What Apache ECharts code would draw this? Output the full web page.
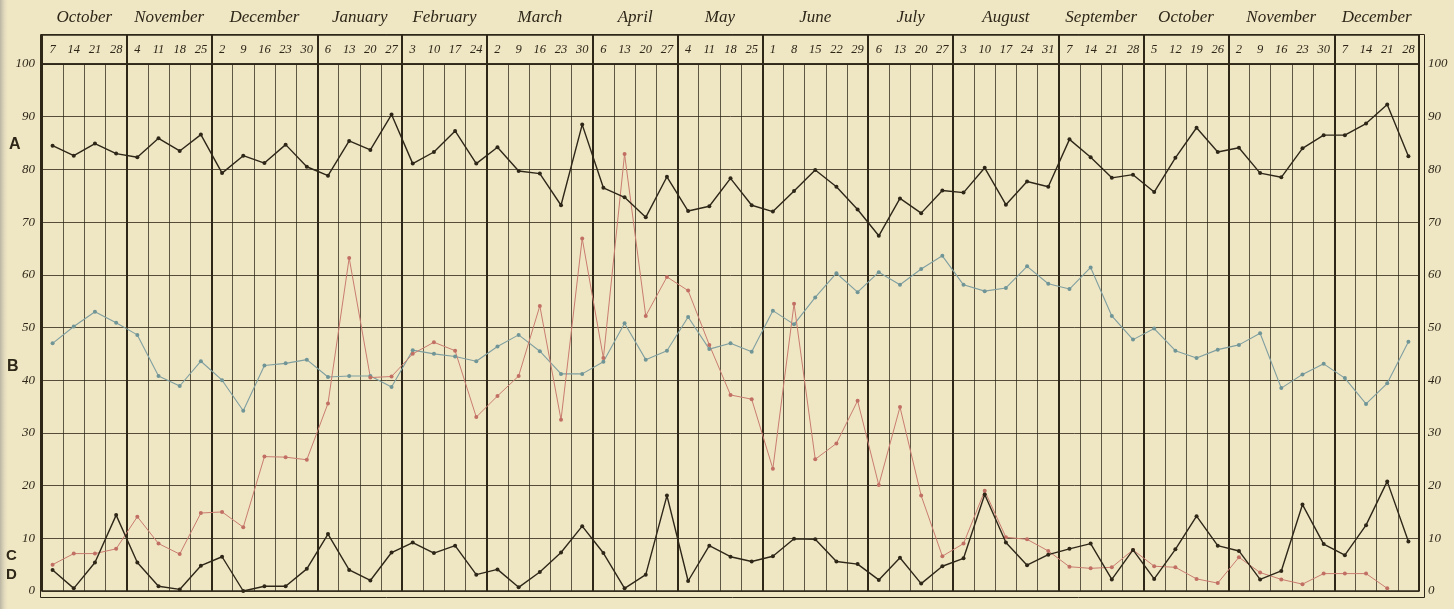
<!DOCTYPE html>
<html><head><meta charset="utf-8">
<script src="https://cdn.jsdelivr.net/npm/echarts@6/dist/echarts.min.js"></script>
<style>html,body{margin:0;padding:0;background:#efe6c4;}#c{width:1454px;height:609px;}</style>
</head><body><div id="c"></div>
<script>
const months = ['October','November','December','January','February','March','April','May','June','July','August','September','October','November','December'];
const weekDays = [[7,14,21,28],[4,11,18,25],[2,9,16,23,30],[6,13,20,27],[3,10,17,24],[2,9,16,23,30],[6,13,20,27],[4,11,18,25],[1,8,15,22,29],[6,13,20,27],[3,10,17,24,31],[7,14,21,28],[5,12,19,26],[2,9,16,23,30],[7,14,21,28]];
const yTicks = [0,10,20,30,40,50,60,70,80,90,100];
const seriesA = [84.5,82.6,84.9,83.0,82.3,85.9,83.5,86.6,79.3,82.6,81.2,84.7,80.5,78.8,85.4,83.7,90.4,81.1,83.3,87.3,81.1,84.2,79.7,79.2,73.2,88.5,76.5,74.7,70.9,78.6,72.1,73.0,78.3,73.2,72.0,75.9,79.9,76.7,72.4,67.4,74.5,71.7,76.0,75.6,80.3,73.3,77.7,76.7,85.7,82.3,78.4,79.0,75.7,82.2,87.9,83.3,84.1,79.3,78.5,84.0,86.5,86.5,88.7,92.3,82.5];
const seriesB = [47.0,50.2,53.0,50.9,48.6,40.8,38.9,43.6,40.0,34.2,42.8,43.2,43.9,40.6,40.8,40.8,38.7,45.7,45.0,44.5,43.6,46.4,48.6,45.5,41.2,41.2,43.5,50.8,43.9,45.6,52.0,45.9,47.0,45.4,53.2,50.6,55.7,60.3,56.7,60.5,58.1,61.1,63.6,58.1,56.9,57.5,61.6,58.3,57.3,61.4,52.2,47.7,49.8,45.6,44.2,45.8,46.7,48.9,38.5,41.1,43.1,40.4,35.5,39.4,47.3];
const seriesC = [5.0,7.1,7.1,8.0,14.1,9.0,7.0,14.8,15.0,12.1,25.5,25.4,24.9,35.6,63.2,40.5,40.7,45.0,47.2,45.6,33.0,37.0,40.8,54.1,32.5,66.9,44.2,82.9,52.2,59.6,57.0,46.7,37.2,36.4,23.2,54.5,25.0,28.0,36.1,20.1,34.9,18.1,6.6,9.0,19.0,10.2,9.8,7.6,4.6,4.3,4.5,7.8,4.7,4.5,2.3,1.5,6.4,3.5,2.2,1.3,3.3,3.3,3.3,0.5,null];
const seriesD = [4.0,0.5,5.4,14.4,5.4,0.9,0.3,4.8,6.5,0,0.9,0.9,4.2,10.8,4.0,2.0,7.3,9.2,7.2,8.6,3.1,4.1,0.7,3.6,7.3,12.3,7.2,0.5,3.1,18.1,1.9,8.6,6.5,5.6,6.6,9.9,9.8,5.6,5.1,2.1,6.3,1.4,4.7,6.2,18.3,9.2,4.9,6.9,8.0,9.0,2.2,7.8,2.3,7.9,14.2,8.6,7.6,2.2,3.8,16.4,8.9,6.8,12.5,20.8,9.4];

const weeks = weekDays.flat().map(String);
const nW = weeks.length;
const monthStart = []; let acc = 0;
weekDays.forEach(w => { monthStart.push(acc); acc += w.length; });
const monthStartSet = new Set(monthStart);
const halfLabels = Array.from({length: 2*nW+1}, () => '');
monthStart.forEach((s, m) => { halfLabels[2*s + weekDays[m].length] = months[m]; });
const halfCats = halfLabels.map((_, k) => 'h' + k);

const ink = '#2e2718';
const serif = '"Liberation Serif", "DejaVu Serif", serif';
const L = 42, R = 35, TOP = 64, BOT = 18;

const chart = echarts.init(document.getElementById('c'));
chart.setOption({
  backgroundColor: '#efe6c4',
  animation: false,
  grid: [
    {left: L, right: R, top: TOP, bottom: BOT, show: true, borderColor: ink, borderWidth: 1.5},
    {left: L, right: R, top: 35, height: TOP - 35, show: true, borderColor: ink, borderWidth: 1.5}
  ],
  xAxis: [
    {type: 'category', gridIndex: 0, data: weeks, position: 'top', boundaryGap: true,
     axisLine: {show: false}, axisTick: {show: false},
     axisLabel: {interval: 0, margin: 8, fontFamily: serif, fontStyle: 'italic', fontSize: 12.5, color: ink},
     splitLine: {show: true, interval: 0, lineStyle: {color: 'rgba(46,39,24,0.75)', width: 1}}},
    {type: 'category', gridIndex: 0, data: weeks, position: 'bottom', boundaryGap: true,
     axisLine: {show: false}, axisTick: {show: false}, axisLabel: {show: false},
     splitLine: {show: true, interval: (i) => monthStartSet.has(i), lineStyle: {color: ink, width: 2}}},
    {type: 'category', gridIndex: 1, data: weeks, position: 'bottom', boundaryGap: true,
     axisLine: {show: false}, axisTick: {show: false}, axisLabel: {show: false},
     splitLine: {show: true, interval: (i) => monthStartSet.has(i), lineStyle: {color: ink, width: 2}}},
    {type: 'category', gridIndex: 1, data: halfCats, position: 'top', boundaryGap: false,
     axisLine: {show: false}, axisTick: {show: false}, splitLine: {show: false},
     axisLabel: {interval: 0, margin: 9, fontFamily: serif, fontStyle: 'italic', fontSize: 17, color: ink,
       formatter: (v, idx) => halfLabels[idx]}}
  ],
  yAxis: [
    {type: 'value', gridIndex: 0, min: 0, max: 100, interval: 10, position: 'left',
     axisLine: {show: false}, axisTick: {show: false},
     axisLabel: {margin: 7, fontFamily: serif, fontStyle: 'italic', fontSize: 13, color: ink,
       formatter: v => yTicks.includes(v) ? String(v) : ''},
     splitLine: {show: true, lineStyle: {color: 'rgba(46,39,24,0.8)', width: 1}}},
    {type: 'value', gridIndex: 0, min: 0, max: 100, interval: 10, position: 'right',
     axisLine: {show: false}, axisTick: {show: false},
     axisLabel: {margin: 9, fontFamily: serif, fontStyle: 'italic', fontSize: 13, color: ink},
     splitLine: {show: false}},
    {type: 'value', gridIndex: 1, min: 0, max: 1, show: false}
  ],
  series: [
    {name: 'A', type: 'line', xAxisIndex: 0, yAxisIndex: 0, data: seriesA, symbol: 'circle', symbolSize: 4,
     itemStyle: {color: ink}, lineStyle: {color: ink, width: 1.4}, z: 5},
    {name: 'B', type: 'line', xAxisIndex: 0, yAxisIndex: 0, data: seriesB, symbol: 'circle', symbolSize: 4,
     itemStyle: {color: '#6f9597'}, lineStyle: {color: '#7f9fa0', width: 1.1}, z: 4},
    {name: 'C', type: 'line', xAxisIndex: 0, yAxisIndex: 0, data: seriesC, symbol: 'circle', symbolSize: 4,
     itemStyle: {color: '#c26f63'}, lineStyle: {color: '#c97c70', width: 1}, z: 4},
    {name: 'D', type: 'line', xAxisIndex: 0, yAxisIndex: 0, data: seriesD, symbol: 'circle', symbolSize: 4,
     itemStyle: {color: ink}, lineStyle: {color: ink, width: 1.4}, z: 5}
  ],
  graphic: [
    {type: 'rect', left: 0, top: 0, shape: {width: 9, height: 609}, silent: true,
     style: {fill: new echarts.graphic.LinearGradient(0,0,1,0,[{offset:0,color:'#b9b4a2'},{offset:1,color:'rgba(239,230,196,0)'}])}},
    {type: 'rect', left: 38, top: 32, shape: {width: 1384, height: 563}, silent: true,
     style: {fill: 'none', stroke: ink, lineWidth: 1}},
    {type: 'text', left: 9, top: 137, style: {text: 'A', font: 'bold 16px "Liberation Sans Narrow", "Liberation Sans", sans-serif', fill: ink}},
    {type: 'text', left: 7, top: 359, style: {text: 'B', font: 'bold 16px "Liberation Sans Narrow", "Liberation Sans", sans-serif', fill: ink}},
    {type: 'text', left: 6, top: 548, style: {text: 'C', font: 'bold 15px "Liberation Sans Narrow", "Liberation Sans", sans-serif', fill: ink}},
    {type: 'text', left: 6, top: 567, style: {text: 'D', font: 'bold 15px "Liberation Sans Narrow", "Liberation Sans", sans-serif', fill: ink}}
  ]
});
</script></body></html>
